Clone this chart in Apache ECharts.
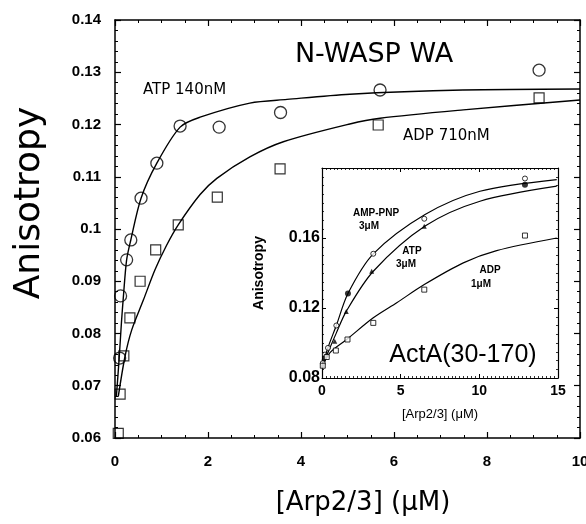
<!DOCTYPE html>
<html>
<head>
<meta charset="utf-8">
<script src="https://cdn.jsdelivr.net/npm/echarts@6/dist/echarts.min.js"></script>
<style>
html,body{margin:0;padding:0;background:#fff;}
#chartDiv{width:586px;height:524px;}
</style>
</head>
<body>
<div id="chartDiv"></div>
<script>
// main plot: N-WASP WA, [Arp2/3] (uM) vs anisotropy
var atpPoints = [[0.10,0.0753],[0.12,0.0872],[0.25,0.0941],[0.34,0.0979],[0.56,0.1059],[0.90,0.1126],[1.40,0.1197],[2.24,0.1195],[3.56,0.1223],[5.70,0.1266],[9.12,0.1304]];
var adpPoints = [[0.07,0.0609],[0.11,0.0684],[0.19,0.0757],[0.32,0.0830],[0.54,0.0900],[0.875,0.0960],[1.36,0.1008],[2.20,0.1061],[3.55,0.1115],[5.66,0.1199],[9.12,0.1251]];
var atpFit = [[0.03,0.068],[0.09,0.0753],[0.14,0.0823],[0.18,0.0870],[0.25,0.0941],[0.34,0.0979],[0.56,0.1059],[0.9,0.1126],[1.4,0.1195],[1.83,0.1214],[2.9,0.1241],[3.7,0.1248],[5.05,0.1258],[7.48,0.1266],[10,0.1268]];
var adpFit = [[0.07,0.0679],[0.215,0.0756],[0.36,0.0807],[0.61,0.0864],[0.86,0.0922],[1.11,0.0969],[1.36,0.1008],[1.83,0.1066],[2.19,0.1097],[2.9,0.1138],[3.62,0.1167],[5.05,0.1201],[5.7,0.1212],[7.49,0.1228],[10,0.1247]];

// inset: ActA(30-170)
var insetPnpPoints = [[0.05,0.0885],[0.19,0.0934],[0.38,0.0972],[0.91,0.110],[3.26,0.151],[6.5,0.171],[12.9,0.194]];
var insetFilledPoints = [[1.65,0.1283],[12.9,0.1905]];
var insetAtpPoints = [[0.05,0.0875],[0.13,0.0917],[0.3,0.094],[0.81,0.101],[1.54,0.118],[3.16,0.141],[6.5,0.1667]];
var insetAdpPoints = [[0.05,0.087],[0.3,0.092],[0.88,0.0957],[1.62,0.102],[3.26,0.1115],[6.5,0.1305],[12.9,0.1614]];
var insetPnpFit = [[0,0.0858],[0.38,0.0974],[0.91,0.110],[1.65,0.1283],[3.26,0.1509],[6.55,0.1734],[10.04,0.1867],[14.92,0.1934]];
var insetAtpFit = [[0,0.0858],[0.4,0.095],[0.9,0.1055],[1.54,0.1181],[3.26,0.141],[6.55,0.1668],[10.04,0.181],[14.92,0.1896]];
var insetAdpFit = [[0,0.0858],[0.51,0.0945],[1.57,0.102],[3.26,0.1144],[4.75,0.123],[6.5,0.1334],[8.98,0.1458],[11.1,0.1528],[14.92,0.16]];

var chartDiv = document.getElementById("chartDiv");
var chart = echarts.init(chartDiv);

var black = '#000';
function fmt2(v){ return (+v.toFixed(2)) + ''; }

function frameAxis(opt){
	var a = {
		type: 'value',
		splitLine: {show: false},
		axisLine: {show: true, onZero: false, lineStyle: {color: black, width: 1.5}},
		axisTick: {show: true, inside: true, length: 6, lineStyle: {color: black, width: 1.2}},
		minorTick: {show: true, splitNumber: 4, length: 3, lineStyle: {color: black, width: 1}},
		axisLabel: {show: false}
	};
	for (var k in opt) a[k] = opt[k];
	return a;
}

var option = {
	animation: false,
	backgroundColor: '#fff',
	grid: [
		{left: 115, top: 20, width: 465, height: 418, outerBoundsMode: 'none', containLabel: false},
		{left: 322, top: 168, width: 236, height: 210, outerBoundsMode: 'none', containLabel: false,
			show: true, backgroundColor: '#fff', borderWidth: 0}
	],
	xAxis: [
		frameAxis({gridIndex: 0, position: 'bottom', min: 0, max: 10, interval: 2,
			axisLabel: {show: true, color: black, fontSize: 15, fontWeight: 'bold', fontFamily: 'Liberation Sans', margin: 16}}),
		frameAxis({gridIndex: 0, position: 'top', min: 0, max: 10, interval: 2}),
		frameAxis({gridIndex: 1, position: 'bottom', min: 0, max: 15, interval: 5,
			axisLine: {show: true, onZero: false, lineStyle: {color: black, width: 1.2}},
			axisTick: {show: true, inside: true, length: 4, lineStyle: {color: black, width: 1}},
			minorTick: {show: true, splitNumber: 20, length: 2, lineStyle: {color: black, width: 0.8}},
			axisLabel: {show: true, color: black, fontSize: 14, fontWeight: 'bold', fontFamily: 'Liberation Sans', margin: 6},
			name: '[Arp2/3] (\u03bcM)', nameLocation: 'middle', nameGap: 30,
			nameTextStyle: {color: black, fontSize: 13, fontFamily: 'Liberation Sans'}}),
		frameAxis({gridIndex: 1, position: 'top', min: 0, max: 15, interval: 5,
			axisLine: {show: true, onZero: false, lineStyle: {color: black, width: 1.2}},
			axisTick: {show: true, inside: true, length: 4, lineStyle: {color: black, width: 1}},
			minorTick: {show: true, splitNumber: 20, length: 2, lineStyle: {color: black, width: 0.8}}})
	],
	yAxis: [
		frameAxis({gridIndex: 0, position: 'left', min: 0.06, max: 0.14, interval: 0.01,
			minorTick: {show: true, splitNumber: 5, length: 3, lineStyle: {color: black, width: 1}},
			axisLabel: {show: true, color: black, fontSize: 15, fontWeight: 'bold', fontFamily: 'Liberation Sans', margin: 14, formatter: fmt2}}),
		frameAxis({gridIndex: 0, position: 'right', min: 0.06, max: 0.14, interval: 0.01,
			minorTick: {show: true, splitNumber: 5, length: 3, lineStyle: {color: black, width: 1}}}),
		frameAxis({gridIndex: 1, position: 'left', min: 0.08, max: 0.20, interval: 0.04,
			axisLine: {show: true, onZero: false, lineStyle: {color: black, width: 1.2}},
			axisTick: {show: true, inside: true, length: 4, lineStyle: {color: black, width: 1}},
			minorTick: {show: true, splitNumber: 8, length: 2, lineStyle: {color: black, width: 0.8}},
			axisLabel: {show: true, showMaxLabel: false, color: black, fontSize: 16, fontWeight: 'bold', fontFamily: 'Liberation Sans', margin: 2, formatter: fmt2},
			name: 'Anisotropy', nameLocation: 'middle', nameGap: 56,
			nameTextStyle: {color: black, fontSize: 14, fontWeight: 'bold', fontFamily: 'Liberation Sans'}}),
		frameAxis({gridIndex: 1, position: 'right', min: 0.08, max: 0.20, interval: 0.04,
			axisLine: {show: true, onZero: false, lineStyle: {color: black, width: 1.2}},
			axisTick: {show: true, inside: true, length: 4, lineStyle: {color: black, width: 1}},
			minorTick: {show: true, splitNumber: 8, length: 2, lineStyle: {color: black, width: 0.8}}})
	],
	series: [
		{type: 'line', xAxisIndex: 0, yAxisIndex: 0, data: atpFit, smooth: 0.3, showSymbol: false,
			lineStyle: {color: black, width: 1.4}, z: 3},
		{type: 'line', xAxisIndex: 0, yAxisIndex: 0, data: adpFit, smooth: 0.3, showSymbol: false,
			lineStyle: {color: black, width: 1.4}, z: 3},
		{type: 'scatter', xAxisIndex: 0, yAxisIndex: 0, data: atpPoints, symbol: 'circle', symbolSize: 12,
			itemStyle: {color: 'rgba(255,255,255,0)', borderColor: black, borderWidth: 1.3}, z: 4},
		{type: 'scatter', xAxisIndex: 0, yAxisIndex: 0, data: adpPoints, symbol: 'rect', symbolSize: 10,
			itemStyle: {color: 'rgba(255,255,255,0)', borderColor: black, borderWidth: 1.2}, z: 4},

		{type: 'line', xAxisIndex: 2, yAxisIndex: 2, data: insetPnpFit, smooth: 0.3, showSymbol: false,
			lineStyle: {color: black, width: 1.2}, z: 5},
		{type: 'line', xAxisIndex: 2, yAxisIndex: 2, data: insetAtpFit, smooth: 0.3, showSymbol: false,
			lineStyle: {color: black, width: 1.2}, z: 5},
		{type: 'line', xAxisIndex: 2, yAxisIndex: 2, data: insetAdpFit, smooth: 0.3, showSymbol: false,
			lineStyle: {color: black, width: 1.2}, z: 5},
		{type: 'scatter', xAxisIndex: 2, yAxisIndex: 2, data: insetPnpPoints, symbol: 'circle', symbolSize: 5,
			itemStyle: {color: '#fff', borderColor: black, borderWidth: 1}, z: 6},
		{type: 'scatter', xAxisIndex: 2, yAxisIndex: 2, data: insetAtpPoints, symbol: 'triangle', symbolSize: 5,
			itemStyle: {color: black}, z: 6},
		{type: 'scatter', xAxisIndex: 2, yAxisIndex: 2, data: insetAdpPoints, symbol: 'rect', symbolSize: 5,
			itemStyle: {color: '#fff', borderColor: black, borderWidth: 1}, z: 6},
		{type: 'scatter', xAxisIndex: 2, yAxisIndex: 2, data: insetFilledPoints, symbol: 'circle', symbolSize: 6,
			itemStyle: {color: black}, z: 6}
	],
	graphic: [
		{type: 'text', x: 30, y: 203, rotation: Math.PI / 2, z: 10, style: {text: 'Anisotropy', fontSize: 36, fontFamily: 'DejaVu Sans', fill: black, align: 'center', verticalAlign: 'middle'}},
		{type: 'text', x: 363, y: 503, z: 10, style: {text: '[Arp2/3] (\u03bcM)', fontSize: 26, fontFamily: 'DejaVu Sans', fill: black, align: 'center', verticalAlign: 'middle'}},
		{type: 'text', x: 374, y: 55, z: 10, style: {text: 'N-WASP WA', fontSize: 27, fontFamily: 'DejaVu Sans', fill: black, align: 'center', verticalAlign: 'middle'}},
		{type: 'text', x: 143, y: 90, z: 10, style: {text: 'ATP 140nM', fontSize: 15, fontFamily: 'DejaVu Sans', fill: black, align: 'left', verticalAlign: 'middle'}},
		{type: 'text', x: 403, y: 136, z: 10, style: {text: 'ADP 710nM', fontSize: 15, fontFamily: 'DejaVu Sans', fill: black, align: 'left', verticalAlign: 'middle'}},
		{type: 'text', x: 463, y: 355, z: 10, style: {text: 'ActA(30-170)', fontSize: 25, fontFamily: 'Liberation Sans', fill: black, align: 'center', verticalAlign: 'middle'}},
		{type: 'text', x: 376, y: 213, z: 10, style: {text: 'AMP-PNP', fontSize: 10, fontWeight: 'bold', fontFamily: 'Liberation Sans', fill: black, align: 'center', verticalAlign: 'middle'}},
		{type: 'text', x: 359, y: 226, z: 10, style: {text: '3\u03bcM', fontSize: 10, fontWeight: 'bold', fontFamily: 'Liberation Sans', fill: black, align: 'left', verticalAlign: 'middle'}},
		{type: 'text', x: 412, y: 251, z: 10, style: {text: 'ATP', fontSize: 10, fontWeight: 'bold', fontFamily: 'Liberation Sans', fill: black, align: 'center', verticalAlign: 'middle'}},
		{type: 'text', x: 396, y: 264, z: 10, style: {text: '3\u03bcM', fontSize: 10, fontWeight: 'bold', fontFamily: 'Liberation Sans', fill: black, align: 'left', verticalAlign: 'middle'}},
		{type: 'text', x: 490, y: 270, z: 10, style: {text: 'ADP', fontSize: 10, fontWeight: 'bold', fontFamily: 'Liberation Sans', fill: black, align: 'center', verticalAlign: 'middle'}},
		{type: 'text', x: 471, y: 284, z: 10, style: {text: '1\u03bcM', fontSize: 10, fontWeight: 'bold', fontFamily: 'Liberation Sans', fill: black, align: 'left', verticalAlign: 'middle'}}
	]
};
chart.setOption(option);
</script>
</body>
</html>
